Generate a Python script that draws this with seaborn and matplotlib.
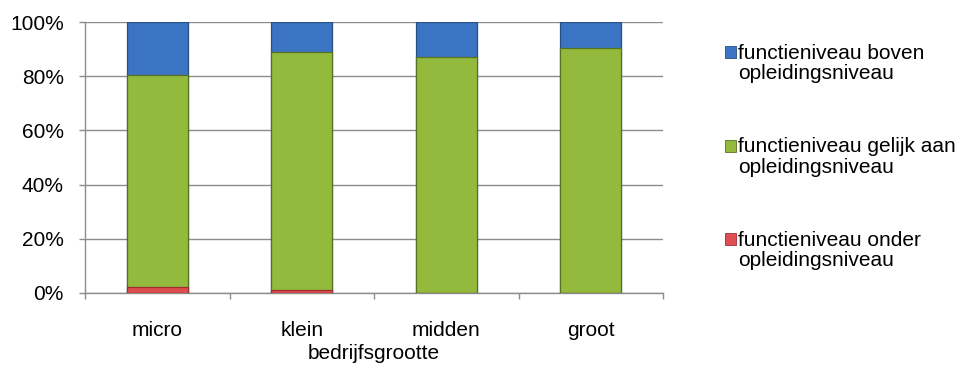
import matplotlib
matplotlib.use("Agg")
import matplotlib.pyplot as plt
from matplotlib.patches import Patch, Rectangle
from matplotlib.legend_handler import HandlerPatch
from matplotlib.ticker import FixedLocator
import seaborn as sns
import pandas as pd

categories = ["micro", "klein", "midden", "groot"]
onder = [2.2, 1.2, 0.0, 0.0]
gelijk = [78.3, 87.8, 87.0, 90.4]
boven = [100 - o - g for o, g in zip(onder, gelijk)]
labels = ["functieniveau boven\nopleidingsniveau",
          "functieniveau gelijk aan\nopleidingsniveau",
          "functieniveau onder\nopleidingsniveau"]
colors = {"boven": "#3A74C2", "gelijk": "#93BA3C", "onder": "#DE4D50"}
edges = {"boven": "#284F86", "gelijk": "#5A7124", "onder": "#9E2E30"}

sns.set_theme(style="white")
plt.rcParams["font.family"] = ["Liberation Sans", "DejaVu Sans"]
plt.rcParams["text.color"] = "#000000"
plt.rcParams["axes.labelcolor"] = "#000000"
plt.rcParams["xtick.labelcolor"] = "#000000"
plt.rcParams["ytick.labelcolor"] = "#000000"
FS = 15

df = pd.DataFrame({"cat": categories, "onder": onder, "gelijk": gelijk, "boven": boven})
df["c_onder"] = df["onder"]
df["c_gelijk"] = df["onder"] + df["gelijk"]
df["c_boven"] = df["c_gelijk"] + df["boven"]

fig = plt.figure(figsize=(9.66, 3.69), dpi=100)
ax = fig.add_axes([85/966, 1 - 293/369, 578/966, 271/369])

for key in ["boven", "gelijk", "onder"]:
    sns.barplot(data=df, x="cat", y="c_" + key, order=categories, color=colors[key],
                width=0.42, ax=ax, saturation=1, edgecolor=edges[key], linewidth=0.9,
                zorder=3)

ax.set_ylim(0, 100)
ax.set_xlim(-0.5, 3.5)
ax.set_yticks([0, 20, 40, 60, 80, 100])
ax.set_yticklabels([f"{v}%" for v in [0, 20, 40, 60, 80, 100]], fontsize=FS, color="#000000")
ax.yaxis.grid(True, color="#8c8c8c", linewidth=1.0, zorder=0)
ax.set_axisbelow(True)
ax.tick_params(axis="y", length=4.3, width=1, color="#8c8c8c", pad=11, left=True, direction="out")
ax.tick_params(axis="x", which="major", length=0, pad=20, labelsize=FS, labelcolor="#000000")
ax.xaxis.set_minor_locator(FixedLocator([-0.5, 0.5, 1.5, 2.5, 3.5]))
ax.tick_params(axis="x", which="minor", length=4.3, width=1, color="#8c8c8c", bottom=True, direction="out")
ax.set_ylabel("")
ax.set_xlabel("bedrijfsgrootte", fontsize=FS, color="#000000", labelpad=3)

for s in ["top", "right"]:
    ax.spines[s].set_visible(False)
for s in ["left", "bottom"]:
    ax.spines[s].set_color("#8c8c8c")
    ax.spines[s].set_linewidth(1.0)


def top_square(legend, orig_handle, xdescent, ydescent, width, height, fontsize):
    return Rectangle((-xdescent, -ydescent + 0.55 * fontsize), width, height)


handles = [Patch(facecolor=colors[k], edgecolor=edges[k], linewidth=0.6) for k in ["boven", "gelijk", "onder"]]
leg = fig.legend(handles, labels, loc="upper left", bbox_to_anchor=(725/966, 1 - 44/369),
                 frameon=False, fontsize=FS, handlelength=0.52, handleheight=0.52,
                 handletextpad=0.12, labelspacing=2.6, borderaxespad=0, borderpad=0,
                 handler_map={Patch: HandlerPatch(patch_func=top_square)})
for t in leg.get_texts():
    t.set_linespacing(1.08)
    t.set_color("#000000")

fig.savefig("out.png", dpi=100)
